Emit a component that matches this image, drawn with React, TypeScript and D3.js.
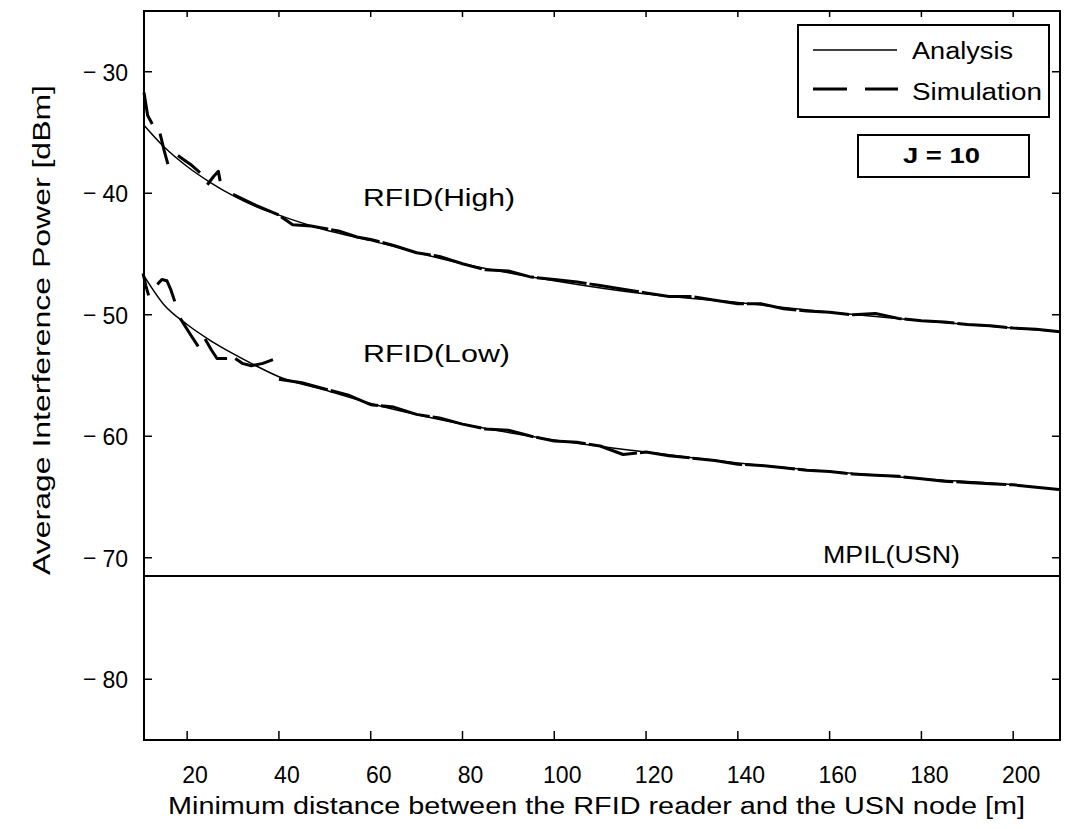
import React from "react";
import * as d3 from "d3";

// distances [m] where the analytic curves were read
const distance = [10.6, 15, 20, 25, 30, 35, 40, 50, 60, 80, 100, 120, 140, 160, 180, 200, 210.2];
const analysisHigh = [-34.4, -36.2, -37.8, -39.1, -40.2, -41.1, -41.8, -43.0, -43.9, -45.8, -47.2, -48.3, -49.0, -49.8, -50.5, -51.1, -51.4];
const analysisLow = [-46.8, -49.2, -50.8, -52.1, -53.2, -54.2, -55.1, -56.2, -57.3, -59.0, -60.3, -61.3, -62.2, -62.9, -63.5, -64.0, -64.4];

// simulation traces, null breaks the stroke
type Pt = [number, number] | null;
const simHigh: Pt[] = [
  [10.6, -31.7], [11.4, -33.6], [12.4, -34.3], null,
  [14.1, -35.1], [15.0, -36.5], [15.8, -37.6], null,
  [18.0, -36.9], [19.5, -37.3], [21.0, -37.7], [22.8, -38.3], null,
  [24.4, -39.3], [25.8, -38.6], [26.8, -38.2], [27.2, -39.0], null,
  [30, -40.1], [35, -41.0], [40, -41.8], [43, -42.6], [47, -42.7], [50, -42.9],
  [53, -43.1], [57, -43.6], [60, -43.8], [65, -44.3], [70, -44.9], [75, -45.2],
  [80, -45.8], [85, -46.3], [90, -46.4], [95, -46.9], [100, -47.1], [105, -47.3],
  [110, -47.6], [115, -47.9], [120, -48.2], [125, -48.5], [130, -48.5], [135, -48.8],
  [140, -49.1], [145, -49.1], [150, -49.5], [155, -49.7], [160, -49.8], [165, -50.0],
  [170, -49.9], [175, -50.3], [180, -50.5], [185, -50.6], [190, -50.8], [195, -50.9],
  [200, -51.1], [205, -51.2], [210.2, -51.4],
];
const simLow: Pt[] = [
  [10.4, -46.6], [11.0, -47.6], [11.6, -48.4], null,
  [13.5, -47.5], [14.5, -47.1], [15.6, -47.2], [16.5, -48.0], [17.3, -48.9], null,
  [18.5, -50.3], [20.5, -51.5], [22.4, -52.6], null,
  [23.9, -52.0], [25.3, -52.9], [26.5, -53.6], [28.7, -53.6], null,
  [30.5, -53.6], [32, -54.0], [34, -54.2], [36.5, -54.0], [38.7, -53.7], null,
  [40, -55.3], [45, -55.6], [50, -56.1], [55, -56.6], [60, -57.4], [65, -57.6],
  [70, -58.2], [75, -58.5], [80, -59.0], [85, -59.4], [90, -59.5], [95, -60.0],
  [100, -60.4], [105, -60.5], [110, -60.8], [115, -61.5], [120, -61.3], [125, -61.6],
  [130, -61.8], [135, -62.0], [140, -62.3], [145, -62.4], [150, -62.6], [155, -62.8],
  [160, -62.9], [165, -63.1], [170, -63.2], [175, -63.3], [180, -63.5], [185, -63.7],
  [190, -63.8], [195, -63.9], [200, -64.0], [205, -64.2], [210.2, -64.4],
];
const mpilLevel = -71.5;

const xTicks = [20, 40, 60, 80, 100, 120, 140, 160, 180, 200];
const yTicks = [-30, -40, -50, -60, -70, -80];

const W = 1077;
const H = 829;
const FONT = "'Liberation Sans', Arial, sans-serif";

export default function App() {
  const x = d3.scaleLinear().domain([10.6, 210.2]).range([144, 1060]);
  const y = d3.scaleLinear().domain([-85, -25]).range([740, 11]);
  const [left, right] = x.range();
  const [bottom, top] = y.range();

  const analysisLine = d3
    .line<number>()
    .x((_, i) => x(distance[i]))
    .y((d) => y(d))
    .curve(d3.curveMonotoneX);

  const simLine = d3
    .line<Pt>()
    .defined((d) => d !== null)
    .x((d) => x((d as [number, number])[0]))
    .y((d) => y((d as [number, number])[1]))
    .curve(d3.curveLinear);

  return (
    <svg width={W} height={H} style={{ position: "absolute", left: 0, top: 0, background: "#fff" }} fontFamily={FONT}>
      <rect width={W} height={H} fill="#fff" />

      {/* curves */}
      <path d={analysisLine(analysisHigh) || ""} fill="none" stroke="#000" strokeWidth={1.5} />
      <path d={analysisLine(analysisLow) || ""} fill="none" stroke="#000" strokeWidth={1.5} />
      <path d={simLine(simHigh) || ""} fill="none" stroke="#000" strokeWidth={3} strokeDasharray="50,3" strokeLinejoin="round" />
      <path d={simLine(simLow) || ""} fill="none" stroke="#000" strokeWidth={3} strokeDasharray="50,3" strokeLinejoin="round" />
      <line x1={left} x2={right} y1={y(mpilLevel)} y2={y(mpilLevel)} stroke="#000" strokeWidth={2} />

      {/* frame */}
      <rect x={left} y={top} width={right - left} height={bottom - top} fill="none" stroke="#000" strokeWidth={2} />
      {xTicks.map((t) => (
        <g key={"x" + t}>
          <line x1={x(t)} x2={x(t)} y1={bottom} y2={bottom - 9} stroke="#000" strokeWidth={1.5} />
          <line x1={x(t)} x2={x(t)} y1={top} y2={top + 6} stroke="#000" strokeWidth={1.5} />
          <text x={x(t) + 8} y={783} fontSize={23} textAnchor="middle">{t}</text>
        </g>
      ))}
      {yTicks.map((t) => (
        <g key={"y" + t}>
          <line x1={left} x2={left + 8} y1={y(t)} y2={y(t)} stroke="#000" strokeWidth={1.5} />
          <line x1={right} x2={right - 8} y1={y(t)} y2={y(t)} stroke="#000" strokeWidth={1.5} />
          <text x={83} y={y(t) + 8} fontSize={23}>−</text>
          <text x={128} y={y(t) + 9} fontSize={23} textAnchor="end">{Math.abs(t)}</text>
        </g>
      ))}

      {/* axis titles */}
      <text x={168} y={814} fontSize={23} textLength={857} lengthAdjust="spacingAndGlyphs">
        Minimum distance between the RFID reader and the USN node [m]
      </text>
      <text transform="translate(50,575) rotate(-90)" fontSize={23} textLength={490} lengthAdjust="spacingAndGlyphs">
        Average Interference Power [dBm]
      </text>

      {/* curve labels */}
      <text x={363} y={206} fontSize={23} textLength={152} lengthAdjust="spacingAndGlyphs">RFID(High)</text>
      <text x={363} y={362} fontSize={23} textLength={147} lengthAdjust="spacingAndGlyphs">RFID(Low)</text>
      <text x={823} y={563} fontSize={23} textLength={137} lengthAdjust="spacingAndGlyphs">MPIL(USN)</text>

      {/* legend */}
      <rect x={798} y={25} width={251} height={92} fill="#fff" stroke="#000" strokeWidth={2} />
      <line x1={813} x2={897} y1={50} y2={50} stroke="#000" strokeWidth={1.5} />
      <text x={912} y={59} fontSize={23} textLength={101} lengthAdjust="spacingAndGlyphs">Analysis</text>
      <line x1={813} x2={898} y1={89} y2={89} stroke="#000" strokeWidth={3} strokeDasharray="34,18" />
      <text x={912} y={100} fontSize={23} textLength={130} lengthAdjust="spacingAndGlyphs">Simulation</text>

      <rect x={858} y={135} width={171} height={42} fill="#fff" stroke="#000" strokeWidth={2} />
      <text x={903} y={163} fontSize={22} fontWeight="bold" textLength={77} lengthAdjust="spacingAndGlyphs">J = 10</text>
    </svg>
  );
}
